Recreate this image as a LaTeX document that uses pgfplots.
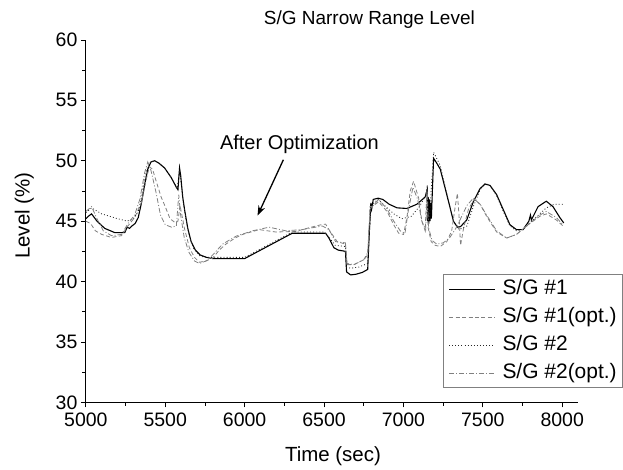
\documentclass[border=0pt]{standalone}
\usepackage{pgfplots}
\pgfplotsset{compat=1.18}
\usepackage{fontspec}
\setmainfont{Liberation Sans}
\usetikzlibrary{arrows.meta}
\definecolor{lgray}{RGB}{128,128,128}
\begin{document}
\begin{tikzpicture}
\begin{axis}[
  name=ax,
  scale only axis,
  width=493pt, height=363pt,
  xmin=5000, xmax=8100, ymin=30, ymax=60,
  axis x line*=bottom, axis y line*=left,
  axis line style={-, line width=0.8pt},
  xtick={5000,5500,...,8000}, ytick={30,35,...,60},
  minor x tick num=1, minor y tick num=1,
  tick align=outside,
  major tick length=5pt, minor tick length=3.5pt,
  every tick/.style={black, line width=0.8pt},
  /pgf/number format/assume math mode=true,
  /pgf/number format/1000 sep={},
  ticklabel style={font=\fontsize{19.5}{22}\selectfont},
  xticklabel style={yshift=-2pt},
  title={S/G Narrow Range Level},
  title style={at={(axis description cs:0.576,1.025)}, anchor=base, font=\fontsize{19}{22}\selectfont},
  xlabel={Time (sec)},
  xlabel style={at={(axis description cs:0.502,-0.149)}, anchor=center, font=\fontsize{20.5}{24}\selectfont},
  ylabel={Level (\%)},
  ylabel style={at={(axis description cs:-0.125,0.515)}, anchor=center, font=\fontsize{20.5}{24}\selectfont},
  clip=false,
  legend style={at={(axis description cs:0.726,0.353)}, anchor=north west,
    draw=lgray, line width=0.6pt, font=\fontsize{21}{24}\selectfont,
    inner xsep=5pt, inner ysep=3.5pt, row sep=6pt, column sep=6pt,
    nodes={inner sep=1pt, text height=15pt, text depth=5pt}},
  legend cell align=left,
  legend image code/.code={\draw[#1] (0pt,0pt) -- (46pt,0pt);},
]
\addplot[black, line width=1.1pt] coordinates {
(5000,45.2) (5015,45.4) (5036,45.6) (5070,45.0) (5119,44.4) (5182,44.05) (5245,44.05) (5260,44.5) (5275,44.4) (5290,44.6) (5310,44.8) (5330,45.3) (5350,46.5) (5370,48.0) (5390,49.3) (5410,49.9) (5433,50.0) (5460,49.8) (5496,49.4) (5538,48.6) (5570,47.8) (5580,47.6) (5590,49.4) (5597,48.8) (5610,47.0) (5621,46.0) (5642,44.4) (5663,43.3) (5690,42.6) (5720,42.2) (5760,42.0) (5800,41.9) (6000,41.9) (6300,44.0) (6510,44.0) (6531,43.6) (6562,42.8) (6590,42.6) (6635,42.5) (6642,40.8) (6667,40.55) (6700,40.6) (6740,40.75) (6775,41.0) (6785,44) (6795,46.5) (6800,46.0) (6810,46.8) (6840,46.9) (6870,46.8) (6910,46.4) (6960,46.1) (7022,46.05) (7085,46.4) (7137,47.0) (7150,47.6) (7152,45.0) (7156,47.0) (7160,44.8) (7164,46.8) (7168,45.0) (7172,46.5) (7176,45.2) (7190,50.2) (7210,49.8) (7232,49.3) (7273,47.2) (7315,45.0) (7340,44.5) (7360,44.55) (7399,45.1) (7440,46.6) (7483,47.7) (7514,48.07) (7545,47.96) (7587,47.2) (7629,45.95) (7671,44.7) (7712,44.3) (7754,44.3) (7790,45.0) (7800,45.5) (7806,45.1) (7848,46.2) (7900,46.65) (7942,46.2) (7985,45.3) (8010,44.85)
};
\addlegendentry{S/G \#1}
\addplot[lgray, line width=0.8pt, dash pattern=on 4pt off 2.5pt] coordinates {
(5000,45.0) (5030,44.8) (5060,44.2) (5100,43.9) (5161,43.65) (5225,43.8) (5265,44.6) (5307,45.3) (5349,46.5) (5381,48.5) (5400,49.5) (5420,49.3) (5443,48.3) (5474,47.0) (5500,46.2) (5530,45.2) (5560,44.9) (5580,45.0) (5593,46.3) (5605,45.5) (5621,44.4) (5652,42.8) (5684,42.0) (5715,41.6) (5757,41.7) (5799,41.95) (5840,42.6) (5882,43.1) (5940,43.6) (5987,43.9) (6092,44.3) (6196,44.1) (6322,44.15) (6405,44.45) (6480,44.7) (6510,44.75) (6541,44.1) (6583,43.3) (6635,43.1) (6645,41.4) (6688,41.4) (6750,41.8) (6775,42.2) (6790,46.2) (6802,46.2) (6844,46.6) (6897,45.8) (6939,44.7) (6970,44.0) (7001,43.9) (7022,45.3) (7043,47.5) (7064,48.3) (7096,46.9) (7116,45.0) (7137,44.2) (7148,47.7) (7155,44.5) (7175,43.3) (7200,43.0) (7232,42.9) (7273,43.3) (7304,44.2) (7325,46.1) (7340,47.3) (7350,45.5) (7360,43.0) (7380,44.5) (7410,46.0) (7445,46.8) (7483,46.4) (7524,45.4) (7587,44.1) (7650,43.6) (7712,43.9) (7775,44.6) (7859,45.4) (7900,45.6) (7963,45.1) (8005,44.6)
};
\addlegendentry{S/G \#1(opt.)}
\addplot[black!85, line width=0.8pt, dash pattern=on 0.9pt off 2.2pt] coordinates {
(5000,45.7) (5036,46.1) (5100,45.6) (5200,45.2) (5260,45.0) (5300,45.2) (5330,45.8) (5350,47) (5370,48.5) (5390,49.6) (5410,49.9) (5433,50.0) (5460,49.8) (5496,49.4) (5538,48.6) (5575,47.7) (5590,49.2) (5610,47.0) (5630,45.2) (5650,43.8) (5680,42.7) (5720,42.1) (5760,42.0) (5800,42.0) (6000,42.0) (6300,44.1) (6500,44.1) (6530,43.7) (6570,43.0) (6635,42.9) (6642,41.2) (6667,41.1) (6720,41.2) (6775,41.5) (6795,46.3) (6840,46.8) (6880,46.3) (6940,45.6) (6990,45.2) (7050,45.4) (7100,46.2) (7140,47.1) (7150,48.0) (7155,45) (7165,45.5) (7190,50.7) (7232,49.6) (7273,47.3) (7315,45.0) (7350,44.3) (7400,44.6) (7440,46.2) (7483,47.6) (7514,48.1) (7545,48.0) (7587,47.1) (7629,45.8) (7671,44.6) (7712,44.2) (7754,44.3) (7800,44.9) (7850,45.5) (7900,46.1) (7950,46.4) (8000,46.4) (8010,46.35)
};
\addlegendentry{S/G \#2}
\addplot[lgray, line width=0.8pt, dash pattern=on 5pt off 2pt on 1pt off 2pt] coordinates {
(5000,45.8) (5036,46.2) (5070,45.2) (5110,44.2) (5161,43.8) (5225,43.9) (5265,44.8) (5307,45.5) (5340,46.8) (5370,49.0) (5390,49.9) (5410,49.2) (5440,47.5) (5470,45.5) (5500,44.7) (5540,44.5) (5570,44.6) (5585,47.2) (5597,45.5) (5620,43.6) (5650,42.4) (5684,41.7) (5715,41.5) (5757,41.7) (5799,42.2) (5861,43.1) (5945,43.75) (6050,44.2) (6154,44.5) (6259,44.2) (6363,44.3) (6489,44.6) (6531,44.3) (6573,43.3) (6635,43.2) (6645,41.5) (6688,41.4) (6750,41.8) (6775,42.4) (6790,46.0) (6844,46.8) (6897,46.0) (6939,45.0) (6980,44.2) (7010,44.0) (7030,45.8) (7060,47.8) (7090,46.8) (7116,45.0) (7140,44.3) (7150,47.5) (7158,44.5) (7180,43.4) (7210,43.1) (7250,43.2) (7290,43.6) (7330,44.4) (7360,45.2) (7400,46.3) (7440,46.9) (7483,46.4) (7524,45.5) (7587,44.2) (7650,43.6) (7712,43.9) (7775,44.6) (7859,45.5) (7900,45.8) (7963,45.3) (8005,44.7)
};
\addlegendentry{S/G \#2(opt.)}
\node[anchor=base, font=\fontsize{20}{24}\selectfont] at (axis cs:6345,50.9) {After Optimization};
\draw[line width=1.3pt, -{Stealth[length=10pt,width=7pt]}] (axis cs:6244,50.08) -- (axis cs:6081,45.45);
\end{axis}
\path ([xshift=-86pt,yshift=-65pt]ax.south west) rectangle ([xshift=44pt,yshift=40pt]ax.north east);
\end{tikzpicture}
\end{document}
